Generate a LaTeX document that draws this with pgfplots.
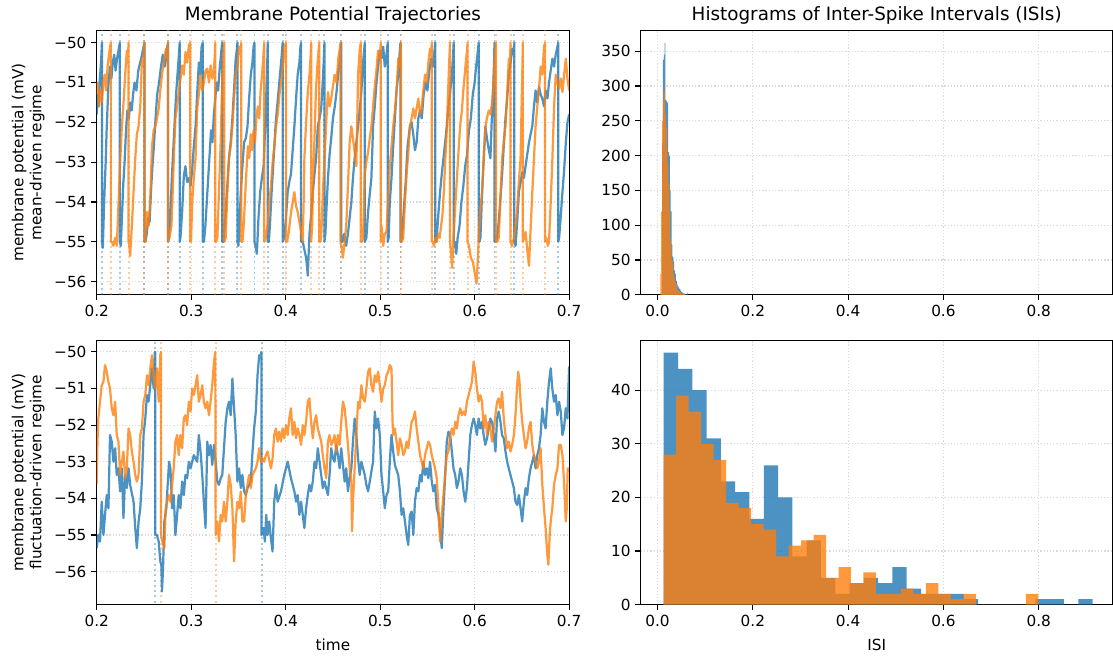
\documentclass[border=0pt]{standalone}
\usepackage{fontspec}
\setmainfont{DejaVu Sans}
\usepackage{pgfplots}
\pgfplotsset{compat=1.18}
\definecolor{tabblue}{RGB}{31,119,180}
\definecolor{taborange}{RGB}{255,127,14}
\pgfplotsset{
 myax/.style={
   scale only axis, width=340pt, height=190.3pt, anchor=south west,
   axis line style={line width=0.88pt, black},
   tick style={line width=0.88pt, black},
   tick pos=left, tick align=outside, major tick length=3.85pt,
   grid=major, grid style={dash pattern=on 0.9pt off 1.4pt, line width=0.88pt, black!14},
   tick label style={font=\fontsize{11}{13}\selectfont},
   label style={font=\fontsize{11}{13}\selectfont},
   title style={font=\fontsize{13.2}{15}\selectfont, at={(0.5,1)}, anchor=base, yshift=1.4pt},
   xlabel style={yshift=-2pt},
   /pgf/number format/assume math mode=true,
 },
 trace/.style={line width=1.6pt, draw opacity=0.8, line join=round},
 vline/.style={line width=1.4pt, dash pattern=on 1.4pt off 2.4pt, draw opacity=0.4},
}
\begin{document}
\begin{tikzpicture}
\useasboundingbox (0,0) rectangle (801pt,471.6pt);
%----------------------------------------------------------- top left
\begin{axis}[myax, at={(69.6pt,259.45pt)},
  xmin=0.2, xmax=0.7, ymin=-56.33, ymax=-49.69,
  xtick={0.2,0.3,0.4,0.5,0.6,0.7}, xticklabels={0.2,0.3,0.4,0.5,0.6,0.7},
  ytick={-56,-55,-54,-53,-52,-51,-50}, yticklabels={−56,−55,−54,−53,−52,−51,−50},
  ylabel={membrane potential (mV)\\mean-driven regime}, ylabel style={align=center},
  title={Membrane Potential Trajectories}]
\pgfplotsinvokeforeach{0.2055,0.2245,0.2505,0.2755,0.2878,0.3122,0.3328,0.3489,0.3670,0.3810,0.3968,0.4163,0.4410,0.4588,0.4837,0.5080,0.5215,0.5582,0.5778,0.6043,0.6210,0.6420,0.6885}{
  \addplot[vline, tabblue] coordinates {(#1,-57) (#1,-49)};}
\pgfplotsinvokeforeach{0.2150,0.2337,0.2505,0.2755,0.2990,0.3255,0.3350,0.3530,0.3773,0.4003,0.4270,0.4355,0.4580,0.4795,0.5007,0.5220,0.5546,0.5740,0.5925,0.6225,0.6380,0.6510,0.6745}{
  \addplot[vline, taborange] coordinates {(#1,-57) (#1,-49)};}
\addplot[trace, tabblue] coordinates {
(0.2000,-51.8) (0.2010,-51.3) (0.2020,-51.6) (0.2030,-51.0) (0.2040,-50.7) (0.2050,-50.3) (0.2055,-50.0) (0.2055,-55.0)
(0.2065,-55.15) (0.2075,-54.3) (0.2085,-53.6) (0.2095,-53.0) (0.2105,-52.2) (0.2115,-51.6) (0.2125,-51.0) (0.2140,-50.6) (0.2155,-50.9) (0.2170,-50.5) (0.2185,-50.3) (0.2200,-50.7) (0.2215,-50.4) (0.2230,-50.2) (0.2245,-50.0) (0.2245,-55.0)
(0.2255,-55.1) (0.2265,-54.5) (0.2280,-53.6) (0.2295,-53.0) (0.2310,-52.2) (0.2325,-51.7) (0.2340,-51.9) (0.2355,-51.5) (0.2370,-51.7) (0.2385,-51.3) (0.2400,-51.0) (0.2420,-51.2) (0.2440,-50.7) (0.2460,-50.5) (0.2480,-50.3) (0.2495,-50.1) (0.2505,-50.0) (0.2505,-55.0)
(0.2515,-55.0) (0.2530,-54.8) (0.2545,-54.4) (0.2560,-54.5) (0.2575,-53.7) (0.2590,-53.1) (0.2605,-52.6) (0.2620,-52.0) (0.2640,-51.3) (0.2660,-51.0) (0.2680,-50.6) (0.2700,-50.3) (0.2720,-50.6) (0.2740,-50.2) (0.2755,-50.0) (0.2755,-55.0)
(0.2765,-54.9) (0.2780,-54.3) (0.2795,-53.4) (0.2810,-52.7) (0.2825,-52.0) (0.2840,-51.3) (0.2855,-50.8) (0.2870,-50.3) (0.2878,-50.0) (0.2878,-55.0)
(0.2886,-54.9) (0.2904,-54.25) (0.2922,-53.35) (0.2939,-53.1) (0.2957,-53.5) (0.2975,-53.4) (0.2993,-53.6) (0.3010,-53.2) (0.3028,-52.6) (0.3046,-52.1) (0.3063,-51.3) (0.3081,-50.5) (0.3095,-50.8) (0.3110,-50.1) (0.3122,-50.0) (0.3122,-55.0)
(0.3135,-55.0) (0.3150,-54.6) (0.3165,-54.0) (0.3180,-53.4) (0.3195,-52.8) (0.3210,-52.2) (0.3225,-52.5) (0.3240,-51.8) (0.3255,-51.4) (0.3270,-51.0) (0.3285,-51.2) (0.3300,-50.7) (0.3315,-50.3) (0.3328,-50.0) (0.3328,-55.0)
(0.3340,-55.0) (0.3352,-54.7) (0.3365,-54.25) (0.3382,-53.6) (0.3400,-52.9) (0.3418,-52.5) (0.3436,-51.9) (0.3453,-51.2) (0.3471,-50.4) (0.3482,-50.2) (0.3489,-50.0) (0.3489,-55.0)
(0.3500,-55.1) (0.3510,-54.6) (0.3525,-53.75) (0.3542,-53.1) (0.3560,-52.5) (0.3578,-52.4) (0.3596,-52.1) (0.3613,-51.4) (0.3631,-50.8) (0.3648,-50.5) (0.3660,-50.1) (0.3670,-50.0) (0.3670,-55.0)
(0.3680,-55.1) (0.3695,-55.3) (0.3712,-54.4) (0.3730,-53.75) (0.3748,-53.4) (0.3766,-53.1) (0.3783,-52.1) (0.3795,-51.3) (0.3805,-50.5) (0.3810,-50.0) (0.3810,-55.0)
(0.3822,-55.0) (0.3835,-54.5) (0.3850,-53.8) (0.3865,-53.2) (0.3880,-52.6) (0.3895,-52.0) (0.3910,-51.6) (0.3925,-51.2) (0.3940,-50.8) (0.3955,-50.4) (0.3968,-50.0) (0.3968,-55.0)
(0.3985,-54.9) (0.4003,-54.4) (0.4021,-53.75) (0.4038,-53.5) (0.4056,-53.3) (0.4074,-52.7) (0.4092,-52.1) (0.4110,-51.4) (0.4127,-50.8) (0.4145,-50.5) (0.4156,-50.1) (0.4163,-50.0) (0.4163,-55.0)
(0.4181,-55.0) (0.4198,-55.2) (0.4216,-55.4) (0.4225,-55.6) (0.4234,-55.85) (0.4243,-55.3) (0.4252,-54.8) (0.4270,-54.3) (0.4287,-53.75) (0.4305,-53.3) (0.4322,-52.9) (0.4340,-52.1) (0.4358,-51.9) (0.4376,-51.65) (0.4392,-51.0) (0.4402,-50.5) (0.4410,-50.0) (0.4410,-55.0)
(0.4420,-54.8) (0.4435,-54.0) (0.4450,-53.3) (0.4465,-52.8) (0.4482,-52.4) (0.4500,-51.9) (0.4520,-51.6) (0.4540,-51.2) (0.4555,-50.8) (0.4570,-50.5) (0.4580,-50.2) (0.4588,-50.0) (0.4588,-55.0)
(0.4600,-55.0) (0.4620,-54.8) (0.4640,-55.1) (0.4659,-54.8) (0.4677,-54.4) (0.4695,-54.0) (0.4712,-53.4) (0.4730,-52.9) (0.4748,-52.5) (0.4766,-52.1) (0.4783,-51.7) (0.4801,-51.24) (0.4815,-50.6) (0.4830,-50.2) (0.4837,-50.0) (0.4837,-55.0)
(0.4854,-54.9) (0.4872,-54.25) (0.4890,-53.8) (0.4907,-53.4) (0.4925,-52.1) (0.4943,-51.6) (0.4961,-51.0) (0.4978,-50.6) (0.4996,-50.2) (0.5014,-50.4) (0.5032,-50.1) (0.5049,-50.6) (0.5067,-50.3) (0.5080,-50.0) (0.5080,-55.0)
(0.5090,-54.9) (0.5102,-54.0) (0.5120,-53.4) (0.5138,-52.6) (0.5156,-51.9) (0.5173,-51.2) (0.5191,-50.8) (0.5205,-50.3) (0.5215,-50.0) (0.5215,-55.0)
(0.5230,-54.9) (0.5250,-54.2) (0.5270,-53.5) (0.5290,-52.6) (0.5315,-52.1) (0.5333,-52.0) (0.5350,-52.3) (0.5368,-52.7) (0.5386,-52.5) (0.5404,-51.9) (0.5422,-51.7) (0.5440,-51.9) (0.5460,-51.3) (0.5480,-51.0) (0.5500,-51.2) (0.5520,-50.7) (0.5540,-50.4) (0.5560,-50.6) (0.5575,-50.2) (0.5582,-50.0) (0.5582,-55.0)
(0.5590,-55.0) (0.5599,-54.9) (0.5616,-54.3) (0.5634,-53.75) (0.5652,-53.3) (0.5670,-52.9) (0.5688,-52.5) (0.5705,-52.1) (0.5723,-51.6) (0.5741,-51.24) (0.5758,-50.8) (0.5770,-50.4) (0.5778,-50.0) (0.5778,-55.0)
(0.5790,-55.0) (0.5805,-55.3) (0.5820,-54.9) (0.5840,-54.6) (0.5860,-54.0) (0.5880,-53.6) (0.5900,-53.1) (0.5920,-52.8) (0.5940,-52.2) (0.5960,-51.9) (0.5980,-51.3) (0.6000,-51.0) (0.6015,-50.6) (0.6030,-50.3) (0.6043,-50.0) (0.6043,-55.0)
(0.6050,-55.0) (0.6061,-54.9) (0.6075,-54.0) (0.6090,-53.2) (0.6105,-52.5) (0.6114,-52.1) (0.6130,-52.4) (0.6150,-52.7) (0.6167,-52.9) (0.6180,-52.0) (0.6195,-51.2) (0.6205,-50.5) (0.6210,-50.0) (0.6210,-55.0)
(0.6220,-55.0) (0.6237,-54.9) (0.6255,-54.5) (0.6273,-53.9) (0.6291,-53.3) (0.6308,-52.6) (0.6326,-51.9) (0.6344,-51.4) (0.6362,-50.8) (0.6380,-50.5) (0.6397,-50.15) (0.6410,-50.3) (0.6420,-50.0) (0.6420,-55.0)
(0.6433,-55.1) (0.6450,-54.5) (0.6468,-53.75) (0.6486,-53.5) (0.6504,-53.25) (0.6521,-53.4) (0.6539,-53.1) (0.6557,-52.8) (0.6575,-52.5) (0.6592,-52.3) (0.6610,-52.1) (0.6628,-51.6) (0.6645,-51.2) (0.6663,-51.5) (0.6681,-51.1) (0.6698,-51.3) (0.6716,-51.4) (0.6734,-51.6) (0.6752,-51.2) (0.6770,-51.4) (0.6787,-51.0) (0.6805,-50.7) (0.6823,-50.4) (0.6840,-50.6) (0.6858,-50.3) (0.6876,-50.1) (0.6885,-50.0) (0.6885,-55.0)
(0.6894,-54.9) (0.6910,-54.4) (0.6929,-53.75) (0.6947,-53.2) (0.6965,-52.5) (0.6982,-52.0) (0.7000,-51.8)
};
\addplot[trace, taborange] coordinates {
(0.2000,-51.3) (0.2012,-51.0) (0.2025,-51.6) (0.2040,-51.2) (0.2055,-51.5) (0.2070,-51.0) (0.2085,-50.8) (0.2100,-51.2) (0.2115,-50.6) (0.2130,-50.3) (0.2142,-50.1) (0.2150,-50.0) (0.2150,-55.0)
(0.2160,-55.0) (0.2177,-55.1) (0.2195,-54.9) (0.2213,-55.1) (0.2230,-54.1) (0.2248,-53.0) (0.2266,-52.1) (0.2284,-51.5) (0.2301,-50.8) (0.2319,-50.2) (0.2330,-50.4) (0.2337,-50.0) (0.2337,-55.0)
(0.2345,-55.1) (0.2354,-55.35) (0.2372,-54.6) (0.2390,-53.75) (0.2408,-52.9) (0.2425,-52.3) (0.2443,-52.1) (0.2461,-51.6) (0.2479,-50.4) (0.2492,-50.6) (0.2505,-50.0) (0.2505,-55.0)
(0.2515,-55.0) (0.2532,-54.25) (0.2550,-54.6) (0.2567,-53.9) (0.2585,-52.6) (0.2603,-52.2) (0.2621,-52.1) (0.2638,-51.9) (0.2656,-51.65) (0.2673,-51.2) (0.2691,-50.8) (0.2709,-50.5) (0.2734,-50.15) (0.2745,-50.4) (0.2755,-50.0) (0.2755,-55.0)
(0.2769,-54.9) (0.2791,-54.6) (0.2805,-53.7) (0.2816,-52.9) (0.2833,-51.9) (0.2851,-51.6) (0.2869,-51.24) (0.2887,-50.9) (0.2904,-50.57) (0.2922,-50.8) (0.2940,-50.23) (0.2958,-50.5) (0.2975,-50.07) (0.2990,-50.0) (0.2990,-55.0)
(0.2998,-55.0) (0.3011,-54.0) (0.3028,-53.4) (0.3046,-52.9) (0.3064,-51.65) (0.3081,-51.3) (0.3099,-50.8) (0.3117,-51.2) (0.3135,-51.0) (0.3152,-50.7) (0.3170,-50.65) (0.3188,-51.0) (0.3206,-50.57) (0.3224,-50.9) (0.3241,-50.7) (0.3250,-50.3) (0.3255,-50.0) (0.3255,-55.0)
(0.3265,-55.0) (0.3277,-54.9) (0.3294,-53.75) (0.3312,-52.5) (0.3330,-50.8) (0.3345,-50.1) (0.3350,-50.0) (0.3350,-55.0)
(0.3365,-54.9) (0.3382,-53.8) (0.3400,-52.9) (0.3418,-52.6) (0.3436,-52.1) (0.3453,-51.4) (0.3471,-50.8) (0.3489,-50.6) (0.3507,-50.1) (0.3520,-50.3) (0.3530,-50.0) (0.3530,-55.0)
(0.3543,-55.0) (0.3555,-54.6) (0.3570,-53.9) (0.3585,-53.2) (0.3600,-52.6) (0.3615,-52.9) (0.3630,-52.3) (0.3645,-52.7) (0.3660,-52.2) (0.3675,-52.5) (0.3690,-51.9) (0.3705,-51.6) (0.3720,-51.9) (0.3735,-51.2) (0.3750,-50.8) (0.3762,-50.4) (0.3773,-50.0) (0.3773,-55.0)
(0.3790,-54.9) (0.3808,-54.6) (0.3826,-54.0) (0.3844,-53.6) (0.3862,-53.0) (0.3880,-52.6) (0.3898,-52.1) (0.3916,-51.8) (0.3934,-51.3) (0.3952,-51.0) (0.3970,-50.6) (0.3986,-50.1) (0.4003,-50.0) (0.4003,-55.0)
(0.4015,-55.0) (0.4030,-54.8) (0.4045,-54.5) (0.4060,-54.2) (0.4075,-54.0) (0.4092,-53.75) (0.4110,-54.1) (0.4127,-54.25) (0.4145,-54.5) (0.4163,-54.75) (0.4181,-55.0) (0.4190,-54.0) (0.4198,-52.9) (0.4216,-52.0) (0.4234,-51.24) (0.4252,-50.8) (0.4265,-50.3) (0.4270,-50.0) (0.4270,-55.0)
(0.4280,-54.6) (0.4290,-53.5) (0.4305,-52.4) (0.4320,-51.2) (0.4335,-50.6) (0.4348,-50.2) (0.4355,-50.0) (0.4355,-55.0)
(0.4365,-55.0) (0.4376,-54.9) (0.4393,-53.8) (0.4411,-52.9) (0.4429,-52.0) (0.4447,-51.24) (0.4465,-51.6) (0.4482,-51.4) (0.4500,-51.1) (0.4518,-50.8) (0.4538,-51.0) (0.4557,-50.4) (0.4570,-50.2) (0.4580,-50.0) (0.4580,-55.0)
(0.4590,-55.1) (0.4606,-55.4) (0.4624,-55.0) (0.4641,-54.6) (0.4659,-53.6) (0.4677,-52.5) (0.4695,-52.1) (0.4712,-52.4) (0.4730,-52.75) (0.4748,-53.1) (0.4757,-52.0) (0.4766,-50.8) (0.4783,-50.2) (0.4795,-50.0) (0.4795,-55.0)
(0.4805,-55.0) (0.4819,-54.9) (0.4837,-53.3) (0.4854,-53.0) (0.4872,-52.75) (0.4890,-52.4) (0.4907,-52.1) (0.4925,-51.6) (0.4943,-51.1) (0.4960,-50.7) (0.4978,-50.2) (0.4995,-50.4) (0.5007,-50.0) (0.5007,-55.0)
(0.5014,-54.6) (0.5032,-55.1) (0.5049,-54.8) (0.5067,-54.75) (0.5085,-53.9) (0.5102,-53.1) (0.5120,-52.6) (0.5138,-52.1) (0.5156,-51.7) (0.5173,-51.24) (0.5191,-50.4) (0.5205,-50.6) (0.5220,-50.0) (0.5220,-55.0)
(0.5230,-55.0) (0.5244,-54.9) (0.5262,-54.0) (0.5280,-53.3) (0.5297,-52.8) (0.5315,-52.1) (0.5333,-51.9) (0.5351,-51.65) (0.5369,-51.9) (0.5386,-51.65) (0.5404,-51.4) (0.5422,-51.8) (0.5439,-51.65) (0.5457,-51.2) (0.5475,-50.8) (0.5493,-51.0) (0.5510,-50.5) (0.5528,-50.15) (0.5540,-50.3) (0.5546,-50.0) (0.5546,-55.0)
(0.5555,-55.0) (0.5570,-55.1) (0.5585,-54.9) (0.5600,-55.0) (0.5615,-54.8) (0.5630,-54.9) (0.5645,-54.6) (0.5660,-54.3) (0.5675,-53.7) (0.5690,-52.9) (0.5705,-52.2) (0.5718,-51.3) (0.5730,-50.5) (0.5740,-50.0) (0.5740,-55.0)
(0.5750,-55.3) (0.5762,-55.65) (0.5775,-55.0) (0.5790,-54.3) (0.5805,-53.7) (0.5820,-53.1) (0.5835,-52.5) (0.5850,-52.0) (0.5865,-51.7) (0.5880,-51.2) (0.5895,-50.8) (0.5910,-50.4) (0.5920,-50.2) (0.5925,-50.0) (0.5925,-55.0)
(0.5940,-55.1) (0.5960,-55.4) (0.5980,-55.5) (0.5995,-55.7) (0.6010,-55.9) (0.6020,-56.05) (0.6030,-55.6) (0.6045,-54.8) (0.6060,-54.2) (0.6078,-53.75) (0.6096,-52.9) (0.6114,-52.1) (0.6130,-51.9) (0.6149,-51.7) (0.6167,-51.8) (0.6185,-51.5) (0.6200,-51.0) (0.6212,-50.4) (0.6225,-50.0) (0.6225,-55.0)
(0.6240,-55.0) (0.6255,-54.9) (0.6273,-53.9) (0.6291,-52.9) (0.6308,-52.5) (0.6326,-52.1) (0.6344,-51.3) (0.6362,-50.4) (0.6372,-50.6) (0.6380,-50.0) (0.6380,-55.0)
(0.6395,-55.1) (0.6415,-54.9) (0.6432,-54.6) (0.6450,-54.2) (0.6468,-53.5) (0.6486,-52.9) (0.6495,-51.8) (0.6504,-50.8) (0.6510,-50.0) (0.6510,-55.0)
(0.6525,-54.9) (0.6539,-54.75) (0.6557,-55.2) (0.6575,-55.6) (0.6592,-54.7) (0.6610,-53.75) (0.6628,-52.9) (0.6645,-52.1) (0.6663,-51.6) (0.6680,-51.2) (0.6699,-50.6) (0.6716,-50.8) (0.6734,-50.1) (0.6745,-50.0) (0.6745,-55.0)
(0.6759,-54.9) (0.6775,-55.1) (0.6787,-55.0) (0.6805,-54.0) (0.6823,-52.9) (0.6840,-51.65) (0.6858,-50.8) (0.6876,-51.0) (0.6894,-51.15) (0.6912,-50.9) (0.6929,-51.24) (0.6947,-50.8) (0.6965,-50.4) (0.6982,-50.9) (0.7000,-51.2)
};
\end{axis}
%----------------------------------------------------------- bottom left
\begin{axis}[myax, at={(69.6pt,36.5pt)},
  xmin=0.2, xmax=0.7, ymin=-56.9, ymax=-49.68,
  xtick={0.2,0.3,0.4,0.5,0.6,0.7}, xticklabels={0.2,0.3,0.4,0.5,0.6,0.7},
  ytick={-56,-55,-54,-53,-52,-51,-50}, yticklabels={−56,−55,−54,−53,−52,−51,−50},
  ylabel={membrane potential (mV)\\fluctuation-driven regime}, ylabel style={align=center},
  xlabel={time}]
\pgfplotsinvokeforeach{0.2620,0.3745}{\addplot[vline, tabblue] coordinates {(#1,-58) (#1,-49)};}
\pgfplotsinvokeforeach{0.2681,0.3259}{\addplot[vline, taborange] coordinates {(#1,-58) (#1,-49)};}
\addplot[trace, tabblue] coordinates {
(0.2000,-55.36) (0.2017,-55.00) (0.2035,-55.18) (0.2053,-54.09) (0.2071,-55.00) (0.2088,-54.45) (0.2106,-53.91) (0.2124,-54.27) (0.2141,-52.27) (0.2159,-52.45) (0.2177,-53.00) (0.2195,-52.63) (0.2212,-53.36) (0.2230,-53.18) (0.2248,-53.81) (0.2266,-53.18) (0.2283,-54.54) (0.2301,-53.36) (0.2319,-53.72) (0.2337,-53.18) (0.2354,-53.63) (0.2390,-54.09) (0.2408,-54.81) (0.2425,-55.36) (0.2443,-54.63) (0.2461,-54.27) (0.2478,-53.54) (0.2496,-52.27) (0.2514,-51.82) (0.2532,-51.18) (0.2549,-51.36) (0.2567,-50.91) (0.2585,-50.45) (0.2603,-51.00) (0.2615,-50.00) (0.2620,-50.00) (0.2620,-55.00)
(0.2638,-55.00) (0.2656,-55.18) (0.2673,-55.72) (0.2684,-55.81) (0.2691,-56.54) (0.2702,-55.90) (0.2716,-54.63) (0.2737,-54.27) (0.2751,-53.63) (0.2766,-53.00) (0.2780,-53.18) (0.2798,-54.27) (0.2815,-53.91) (0.2833,-55.00) (0.2851,-54.45) (0.2868,-53.91) (0.2886,-54.27) (0.2904,-53.54) (0.2922,-53.91) (0.2939,-53.36) (0.2957,-53.45) (0.2975,-53.00) (0.2993,-53.18) (0.3028,-52.82) (0.3064,-53.00) (0.3081,-52.27) (0.3099,-52.72) (0.3117,-53.36) (0.3134,-54.09) (0.3152,-54.81) (0.3170,-52.45) (0.3188,-52.82) (0.3205,-52.54) (0.3223,-53.09) (0.3241,-52.54) (0.3259,-53.00) (0.3276,-53.54) (0.3294,-53.63) (0.3312,-53.45) (0.3329,-53.36) (0.3347,-52.63) (0.3365,-51.91) (0.3383,-51.54) (0.3400,-51.36) (0.3418,-51.73) (0.3436,-50.73) (0.3454,-51.54) (0.3471,-52.27) (0.3489,-53.54) (0.3507,-53.18) (0.3525,-53.72) (0.3542,-53.36) (0.3560,-53.81) (0.3578,-53.91) (0.3596,-53.72) (0.3613,-53.63) (0.3631,-53.54) (0.3649,-52.72) (0.3666,-52.09) (0.3684,-51.63) (0.3702,-50.64) (0.3720,-50.09) (0.3737,-50.18) (0.3743,-50.00) (0.3745,-55.00)
(0.3766,-54.81) (0.3780,-55.18) (0.3794,-54.45) (0.3808,-55.00) (0.3826,-54.63) (0.3844,-55.09) (0.3861,-55.45) (0.3879,-54.09) (0.3897,-53.63) (0.3915,-54.09) (0.3950,-53.81) (0.3985,-53.36) (0.4021,-53.00) (0.4056,-53.45) (0.4092,-53.81) (0.4110,-54.09) (0.4127,-53.91) (0.4145,-54.45) (0.4163,-54.09) (0.4198,-54.81) (0.4216,-54.27) (0.4234,-53.91) (0.4251,-53.63) (0.4269,-53.81) (0.4287,-53.54) (0.4305,-53.00) (0.4322,-53.18) (0.4340,-52.63) (0.4376,-53.36) (0.4393,-53.72) (0.4411,-53.54) (0.4447,-53.91) (0.4464,-53.36) (0.4482,-52.63) (0.4500,-52.9)
(0.4517,-53.00) (0.4535,-52.54) (0.4553,-52.82) (0.4571,-53.18) (0.4588,-52.63) (0.4624,-53.54) (0.4641,-53.18) (0.4659,-53.81) (0.4677,-53.45) (0.4695,-53.18) (0.4712,-52.45) (0.4730,-51.82) (0.4748,-52.27) (0.4766,-52.91) (0.4783,-53.36) (0.4801,-53.00) (0.4819,-53.18) (0.4837,-53.36) (0.4854,-53.63) (0.4872,-53.81) (0.4890,-53.54) (0.4907,-53.27) (0.4925,-53.00) (0.4943,-51.63) (0.4961,-52.09) (0.4978,-51.82) (0.4996,-52.27) (0.5014,-53.36) (0.5032,-53.81) (0.5049,-54.27) (0.5067,-53.91) (0.5085,-53.81) (0.5102,-53.00) (0.5120,-52.27) (0.5138,-52.72) (0.5156,-53.09) (0.5191,-53.36) (0.5209,-53.81) (0.5227,-54.45) (0.5244,-54.27) (0.5262,-54.63) (0.5280,-55.00) (0.5297,-55.27) (0.5315,-54.45) (0.5333,-54.36) (0.5351,-55.00) (0.5368,-54.09) (0.5386,-53.72) (0.5404,-53.81) (0.5422,-53.36) (0.5439,-53.54) (0.5457,-53.00) (0.5475,-53.36) (0.5493,-53.18) (0.5510,-53.45) (0.5528,-53.00) (0.5546,-53.54) (0.5563,-53.81) (0.5581,-53.63) (0.5599,-54.27) (0.5617,-54.45) (0.5634,-54.90) (0.5652,-55.36) (0.5670,-54.27) (0.5688,-53.36) (0.5705,-52.45) (0.5723,-52.18) (0.5741,-52.27) (0.5759,-52.72) (0.5776,-53.18) (0.5794,-53.36) (0.5812,-53.72) (0.5829,-53.54) (0.5847,-53.18) (0.5865,-53.36) (0.5883,-53.81) (0.5900,-54.09) (0.5918,-53.72) (0.5936,-53.00) (0.5954,-52.27) (0.5971,-52.00) (0.5989,-51.82) (0.6007,-52.00) (0.6024,-52.27) (0.6042,-51.82) (0.6060,-52.09) (0.6078,-51.91) (0.6095,-52.27) (0.6113,-52.54) (0.6131,-52.36) (0.6149,-52.09) (0.6166,-51.82) (0.6184,-51.91) (0.6202,-52.27) (0.6220,-52.72) (0.6237,-51.82) (0.6255,-51.63) (0.6273,-51.91) (0.6290,-52.27) (0.6308,-52.36) (0.6326,-52.72) (0.6344,-53.00) (0.6361,-53.18) (0.6379,-53.36) (0.6397,-53.54) (0.6415,-53.72) (0.6432,-54.09) (0.6450,-54.18) (0.6468,-53.91) (0.6486,-54.27) (0.6503,-54.63) (0.6521,-54.09) (0.6539,-53.72) (0.6556,-53.91) (0.6574,-53.45) (0.6592,-53.18) (0.6610,-53.00) (0.6627,-52.82) (0.6645,-53.18) (0.6663,-52.82) (0.6681,-52.63) (0.6698,-52.27) (0.6716,-51.54) (0.6734,-51.91) (0.6751,-52.09) (0.6769,-51.36) (0.6787,-50.82) (0.6805,-50.45) (0.6822,-51.00) (0.6840,-51.36) (0.6858,-51.18) (0.6876,-51.73) (0.6893,-51.36) (0.6911,-51.63) (0.6929,-52.27) (0.6946,-52.09) (0.6964,-51.54) (0.6982,-51.82) (0.7000,-50.40)
};
\addplot[trace, taborange] coordinates {
(0.2000,-53.60) (0.2008,-52.45) (0.2017,-51.82) (0.2035,-51.36) (0.2053,-50.91) (0.2071,-50.82) (0.2088,-50.36) (0.2106,-50.54) (0.2124,-50.82) (0.2141,-51.00) (0.2159,-51.54) (0.2177,-51.73) (0.2195,-51.36) (0.2212,-52.27) (0.2230,-52.45) (0.2248,-53.36) (0.2266,-53.00) (0.2283,-52.72) (0.2301,-53.45) (0.2319,-53.18) (0.2337,-52.09) (0.2354,-52.27) (0.2372,-52.72) (0.2390,-53.00) (0.2408,-53.36) (0.2425,-53.54) (0.2443,-53.36) (0.2461,-52.27) (0.2478,-52.09) (0.2496,-51.36) (0.2514,-51.18) (0.2532,-50.64) (0.2549,-50.91) (0.2567,-50.45) (0.2585,-50.09) (0.2603,-50.64) (0.2620,-51.00) (0.2638,-50.45) (0.2656,-51.36) (0.2673,-50.09) (0.2680,-50.00) (0.2681,-55.00)
(0.2695,-55.18) (0.2716,-55.36) (0.2730,-54.27) (0.2744,-54.09) (0.2762,-53.91) (0.2780,-54.09) (0.2798,-53.63) (0.2815,-53.18) (0.2833,-52.45) (0.2851,-52.27) (0.2868,-52.82) (0.2886,-52.27) (0.2904,-52.63) (0.2922,-51.82) (0.2939,-51.73) (0.2957,-52.00) (0.2975,-51.36) (0.2993,-51.63) (0.3010,-51.00) (0.3028,-51.18) (0.3046,-50.91) (0.3064,-50.64) (0.3081,-51.36) (0.3099,-51.18) (0.3117,-50.91) (0.3134,-51.36) (0.3152,-51.54) (0.3170,-51.36) (0.3188,-51.73) (0.3205,-51.36) (0.3223,-50.91) (0.3241,-50.27) (0.3255,-50.00) (0.3259,-55.00)
(0.3276,-54.63) (0.3294,-55.18) (0.3312,-54.45) (0.3329,-54.63) (0.3347,-54.09) (0.3365,-54.63) (0.3383,-54.09) (0.3400,-53.36) (0.3418,-53.63) (0.3436,-54.27) (0.3454,-55.72) (0.3471,-54.63) (0.3489,-54.09) (0.3507,-54.27) (0.3525,-53.81) (0.3542,-54.63) (0.3560,-54.63) (0.3578,-53.91) (0.3596,-53.63) (0.3613,-53.36) (0.3631,-53.72) (0.3649,-53.36) (0.3666,-53.27) (0.3684,-53.18) (0.3702,-53.00) (0.3720,-52.63) (0.3737,-53.00) (0.3755,-52.91) (0.3773,-53.00) (0.3790,-52.82) (0.3808,-52.72) (0.3844,-53.18) (0.3861,-52.91) (0.3879,-52.27) (0.3897,-52.09) (0.3915,-52.45) (0.3932,-52.18) (0.3950,-52.45) (0.3968,-52.09) (0.3985,-52.36) (0.4003,-52.00) (0.4021,-52.27) (0.4038,-51.82) (0.4056,-51.54) (0.4074,-52.27) (0.4092,-51.91) (0.4110,-52.36) (0.4127,-52.09) (0.4145,-52.27) (0.4163,-52.54) (0.4181,-52.00) (0.4198,-52.27) (0.4216,-51.91) (0.4234,-51.36) (0.4251,-51.27) (0.4269,-51.91) (0.4287,-52.36) (0.4305,-51.91) (0.4322,-51.73) (0.4340,-52.09) (0.4358,-52.27) (0.4376,-52.45) (0.4393,-52.82) (0.4411,-53.18) (0.4429,-53.45) (0.4447,-52.45) (0.4464,-52.27) (0.4482,-52.54)
(0.4500,-52.45) (0.4517,-52.27) (0.4535,-52.72) (0.4553,-52.27) (0.4571,-52.54) (0.4588,-51.91) (0.4606,-51.36) (0.4624,-51.54) (0.4641,-52.00) (0.4659,-52.54) (0.4677,-53.18) (0.4695,-53.54) (0.4702,-54.90) (0.4712,-54.09) (0.4730,-53.18) (0.4748,-52.27) (0.4766,-51.36) (0.4783,-51.54) (0.4801,-50.91) (0.4819,-51.27) (0.4837,-51.36) (0.4854,-51.00) (0.4872,-50.54) (0.4890,-50.45) (0.4907,-50.91) (0.4925,-51.09) (0.4943,-50.64) (0.4961,-50.82) (0.4978,-50.54) (0.4996,-50.91) (0.5014,-51.36) (0.5032,-51.00) (0.5049,-50.91) (0.5067,-50.64) (0.5085,-50.54) (0.5102,-50.36) (0.5120,-50.45) (0.5131,-51.91) (0.5138,-52.27) (0.5156,-52.09) (0.5173,-52.45) (0.5191,-52.82) (0.5209,-52.36) (0.5227,-52.54) (0.5244,-52.82) (0.5262,-52.72) (0.5280,-52.45) (0.5297,-52.63) (0.5315,-52.27) (0.5333,-51.91) (0.5351,-51.82) (0.5368,-51.63) (0.5386,-52.09) (0.5404,-52.45) (0.5422,-52.82) (0.5439,-53.00) (0.5457,-53.18) (0.5475,-52.82) (0.5493,-52.63) (0.5510,-52.45) (0.5528,-52.54) (0.5546,-52.82) (0.5563,-53.00) (0.5581,-53.18) (0.5599,-53.45) (0.5617,-54.27) (0.5634,-55.18) (0.5652,-54.45) (0.5670,-53.91) (0.5688,-53.36) (0.5705,-52.82) (0.5723,-52.72) (0.5741,-52.27) (0.5759,-52.09) (0.5776,-52.27) (0.5794,-51.91) (0.5812,-52.09) (0.5829,-51.73) (0.5847,-51.54) (0.5865,-51.73) (0.5883,-51.63) (0.5900,-51.73) (0.5918,-51.36) (0.5936,-51.18) (0.5954,-51.00) (0.5971,-50.82) (0.5989,-50.27) (0.6007,-50.54) (0.6024,-51.00) (0.6042,-51.36) (0.6060,-51.18) (0.6078,-51.36) (0.6095,-52.09) (0.6113,-51.73) (0.6131,-52.27) (0.6149,-51.91) (0.6166,-52.09) (0.6184,-52.45) (0.6202,-52.09) (0.6220,-51.73) (0.6237,-51.36) (0.6255,-51.27) (0.6273,-51.54) (0.6290,-51.09) (0.6308,-51.82) (0.6326,-52.27) (0.6344,-52.63) (0.6361,-52.45) (0.6379,-52.72) (0.6397,-52.54) (0.6415,-52.27) (0.6432,-51.73) (0.6450,-50.91) (0.6461,-50.54) (0.6475,-50.82) (0.6486,-51.36) (0.6503,-51.91) (0.6521,-52.27) (0.6539,-52.63) (0.6556,-52.45) (0.6574,-52.09) (0.6592,-51.91) (0.6610,-52.54) (0.6627,-52.82) (0.6645,-53.00) (0.6663,-53.18) (0.6681,-53.00) (0.6698,-52.63) (0.6716,-53.63) (0.6734,-54.27) (0.6751,-54.81) (0.6769,-55.54) (0.6780,-55.81) (0.6794,-55.00) (0.6805,-54.63) (0.6822,-54.27) (0.6840,-53.63) (0.6858,-53.36) (0.6876,-53.18) (0.6893,-52.54) (0.6911,-52.54) (0.6929,-52.82) (0.6946,-53.54) (0.6964,-54.63) (0.6975,-54.27) (0.6985,-53.18) (0.7000,-53.20)
};
\end{axis}
%----------------------------------------------------------- top right
\begin{axis}[myax, at={(461.2pt,259.45pt)}, width=339.5pt,
  xmin=-0.035, xmax=0.955, ymin=0, ymax=380,
  xtick={0,0.2,0.4,0.6,0.8}, xticklabels={0.0,0.2,0.4,0.6,0.8},
  ytick={0,50,100,150,200,250,300,350}, yticklabels={0,50,100,150,200,250,300,350},
  title={Histograms of Inter-Spike Intervals (ISIs)}]
\addplot[ybar interval, fill=tabblue, fill opacity=0.8, draw=none] coordinates {
(0.0094,218) (0.0112,338) (0.0131,345) (0.0149,362) (0.0167,280) (0.0186,278) (0.0204,276) (0.0222,205) (0.0240,200) (0.0259,150)
(0.0277,120) (0.0295,72) (0.0314,55) (0.0332,48) (0.0350,35) (0.0369,30) (0.0387,20) (0.0405,15) (0.0423,12) (0.0442,10)
(0.0460,8) (0.0478,6) (0.0497,4) (0.0515,3) (0.0533,2) (0.0552,2) (0.0570,1) (0.0588,1) (0.0607,0) (0.0625,3) (0.0643,0)};
\addplot[ybar interval, fill=taborange, fill opacity=0.8, draw=none] coordinates {
(0.0060,30) (0.0077,120) (0.0094,250) (0.0111,280) (0.0128,300) (0.0145,290) (0.0162,260) (0.0179,240) (0.0196,210) (0.0213,190)
(0.0230,160) (0.0247,120) (0.0264,80) (0.0281,70) (0.0298,50) (0.0315,45) (0.0332,30) (0.0349,25) (0.0366,18) (0.0383,15)
(0.0400,12) (0.0417,8) (0.0434,6) (0.0451,4) (0.0468,3) (0.0485,2) (0.0502,2) (0.0519,1) (0.0536,1) (0.0553,1) (0.0570,0)};
\end{axis}
%----------------------------------------------------------- bottom right
\begin{axis}[myax, at={(461.2pt,36.5pt)}, width=339.5pt,
  xmin=-0.035, xmax=0.955, ymin=0, ymax=49.35,
  xtick={0,0.2,0.4,0.6,0.8}, xticklabels={0.0,0.2,0.4,0.6,0.8},
  ytick={0,10,20,30,40}, yticklabels={0,10,20,30,40},
  xlabel={ISI}]
\addplot[ybar interval, fill=tabblue, fill opacity=0.8, draw=none] coordinates {
(0.0130,47) (0.0430,44) (0.0730,40) (0.1030,31) (0.1330,23) (0.1630,21) (0.1930,16) (0.2230,26) (0.2530,20) (0.2830,9)
(0.3130,12) (0.3430,5) (0.3730,2) (0.4030,4) (0.4330,5) (0.4630,4) (0.4930,7) (0.5230,3) (0.5530,2) (0.5830,2)
(0.6130,2) (0.6430,1) (0.6730,0) (0.7030,0) (0.7330,0) (0.7630,0) (0.7930,1) (0.8230,1) (0.8530,0) (0.8830,1) (0.9130,0)};
\addplot[ybar interval, fill=taborange, fill opacity=0.8, draw=none] coordinates {
(0.0130,28) (0.0392,39) (0.0654,36) (0.0916,30) (0.1178,27) (0.1440,19) (0.1702,18) (0.1964,15) (0.2226,14) (0.2488,9)
(0.2750,11) (0.3012,12) (0.3274,13) (0.3536,5) (0.3798,7) (0.4060,4) (0.4322,6) (0.4584,2) (0.4846,2) (0.5108,3)
(0.5370,2) (0.5632,4) (0.5894,2) (0.6156,1) (0.6418,2) (0.6680,0) (0.6942,0) (0.7204,0) (0.7466,0) (0.7728,2) (0.7990,0)};
\end{axis}
\end{tikzpicture}
\end{document}
